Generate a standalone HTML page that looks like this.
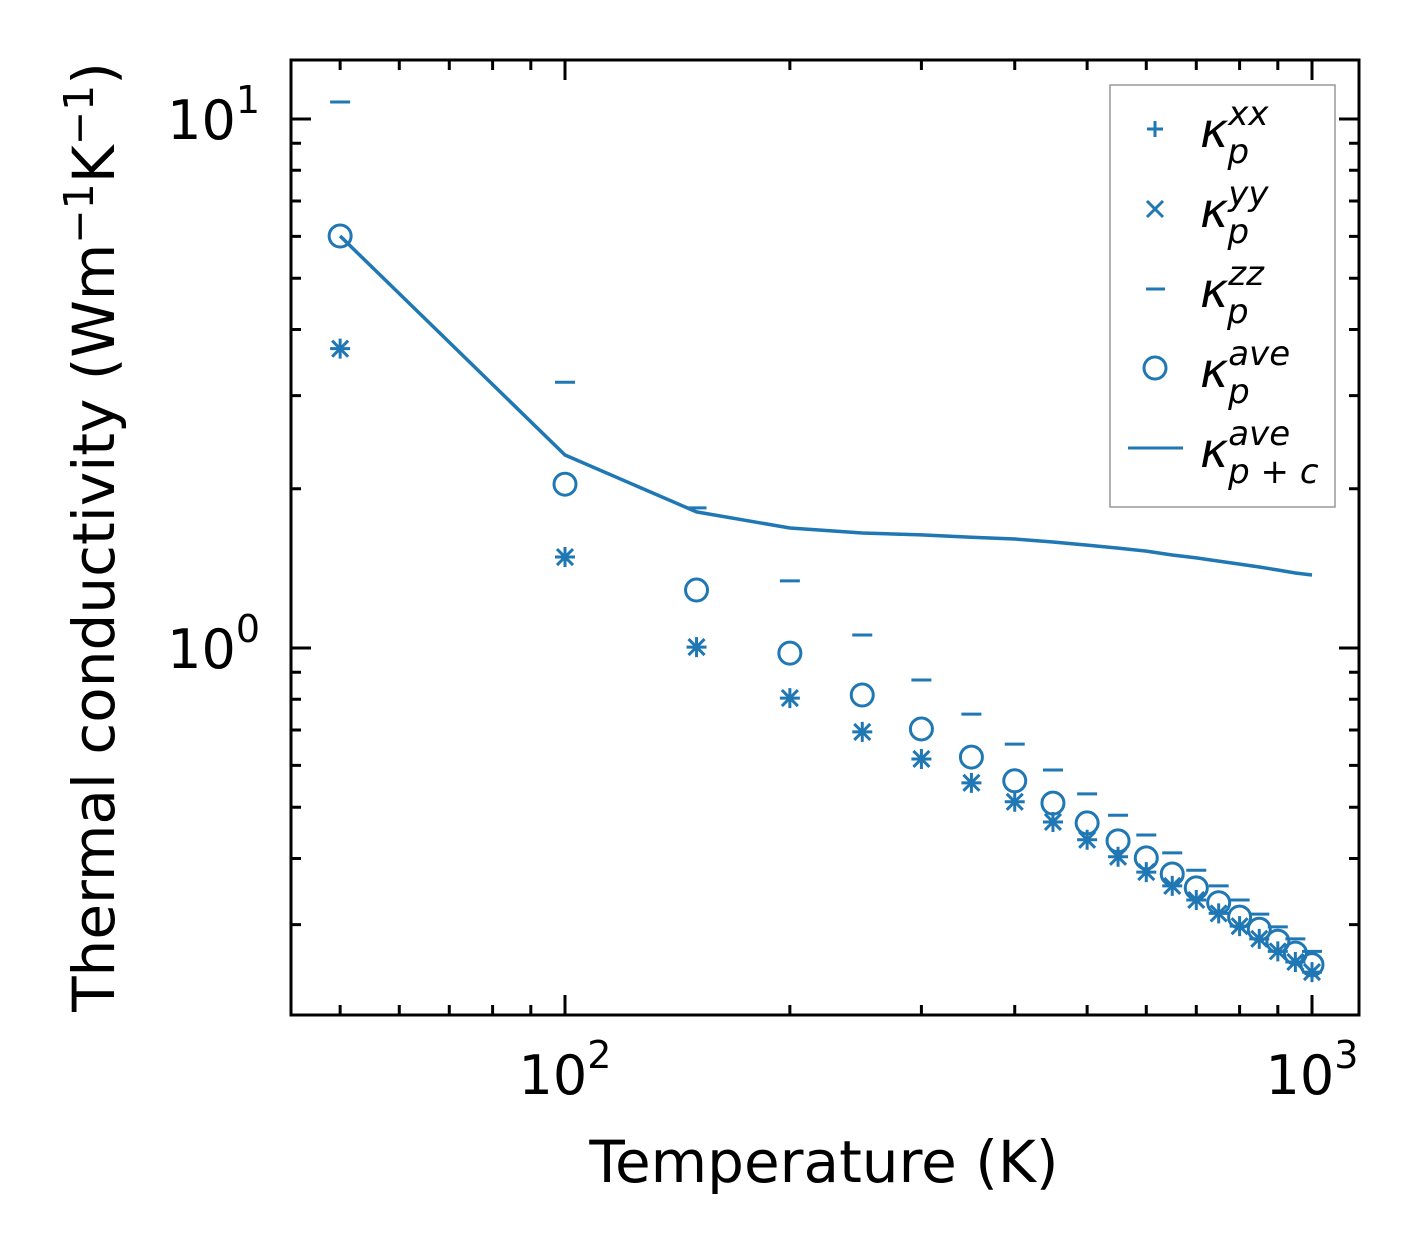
<!DOCTYPE html>
<html><head><meta charset="utf-8"><style>
body{margin:0;background:#fff}
svg{display:block;font-family:"DejaVu Sans","Liberation Sans",sans-serif}
</style></head><body>
<svg id="chart" width="1421" height="1254" viewBox="0 0 1421 1254" xmlns="http://www.w3.org/2000/svg">
<rect width="1421" height="1254" fill="#fff"/>
<g id="marks"></g>
<g id="axes"></g>
<rect x="291" y="60" width="1068" height="955" fill="none" stroke="#000" stroke-width="3"/>
<text x="824" y="1182" font-size="58" text-anchor="middle">Temperature (K)</text>
<text transform="translate(114,537) rotate(-90)" font-size="58" text-anchor="middle">Thermal conductivity (Wm<tspan font-size="41" dy="-21">−1</tspan><tspan dy="21">K</tspan><tspan font-size="41" dy="-21">−1</tspan><tspan dy="21">)</tspan></text>
<g>
<rect x="1110" y="85" width="225" height="422" fill="#fff" stroke="#999" stroke-width="1.5"/>
<g stroke="#1f77b4" stroke-width="3" fill="none">
<path d="M1155,121v16M1147,129h16"/>
<path d="M1147,201l16,16M1147,217l16,-16"/>
<path d="M1146,289h19"/>
<circle cx="1155" cy="368" r="11"/>
<path d="M1128,448h55"/>
</g>
<g font-size="48" font-style="italic" fill="#000">
<text x="1200" y="147">κ<tspan font-size="34" dy="-22">xx</tspan><tspan font-size="34" dx="-41" dy="38">p</tspan></text>
<text x="1200" y="227">κ<tspan font-size="34" dy="-22">yy</tspan><tspan font-size="34" dx="-41" dy="38">p</tspan></text>
<text x="1200" y="307">κ<tspan font-size="34" dy="-22">zz</tspan><tspan font-size="34" dx="-37" dy="38">p</tspan></text>
<text x="1200" y="387">κ<tspan font-size="34" dy="-22">ave</tspan><tspan font-size="34" dx="-62" dy="38">p</tspan></text>
<text x="1200" y="467">κ<tspan font-size="34" dy="-22">ave</tspan><tspan font-size="34" dx="-62" dy="38">p + c</tspan></text>
</g>
</g>
</svg>
<script>
const temps=[50,100,150,200,250,300,350,400,450,500,550,600,650,700,750,800,850,900,950,1000];
const kxx=[3.68,1.486,1.004,0.804,0.694,0.617,0.556,0.512,0.469,0.434,0.403,0.377,0.355,0.334,0.315,0.298,0.282,0.267,0.255,0.244];
const kyy=[3.68,1.486,1.004,0.804,0.694,0.617,0.556,0.512,0.469,0.434,0.403,0.377,0.355,0.334,0.315,0.298,0.282,0.267,0.255,0.244];
const kzz=[10.77,3.18,1.84,1.339,1.058,0.870,0.750,0.658,0.588,0.530,0.483,0.443,0.410,0.380,0.355,0.334,0.314,0.297,0.282,0.267];
const kave=[6.01,2.04,1.287,0.978,0.815,0.703,0.622,0.561,0.509,0.467,0.432,0.401,0.374,0.352,0.330,0.310,0.294,0.279,0.265,0.252];
const kpc=[6.01,2.317,1.808,1.686,1.650,1.636,1.62,1.607,1.586,1.565,1.545,1.525,1.499,1.48,1.46,1.441,1.423,1.404,1.386,1.374];
const xTickVals=[100,1000];
const xTickLabels=["2","3"];
const yTickVals=[1,10];
const yTickLabels=["0","1"];
const NS="http://www.w3.org/2000/svg";
const X=v=>565+747*Math.log10(v/100);
const Y=v=>648-529*Math.log10(v);
function mk(tag,attrs,parent){const e=document.createElementNS(NS,tag);for(const k in attrs)e.setAttribute(k,attrs[k]);parent.appendChild(e);return e;}
const marks=document.getElementById('marks'),axes=document.getElementById('axes');
const C="#1f77b4";
let d=temps.map((t,i)=>(i?'L':'M')+X(t).toFixed(1)+','+Y(kpc[i]).toFixed(1)).join('');
const ln=mk('path',{d:d,fill:'none',stroke:C,'stroke-width':3.5},marks);


temps.forEach((t,i)=>{
  const x=X(t);
  let y=Y(kxx[i]);
  const p=mk('path',{d:`M${x},${y-10}v20M${x-10},${y}h20`,stroke:C,'stroke-width':3},marks);
  
  
  y=Y(kyy[i]);
  const q=mk('path',{d:`M${x-8},${y-8}l16,16M${x-8},${y+8}l16,-16`,stroke:C,'stroke-width':3},marks);
  
  
  y=Y(kzz[i]);
  const z=mk('path',{d:`M${x-10},${y}h20`,stroke:C,'stroke-width':3},marks);
  
  
  y=Y(kave[i]);
  const c=mk('circle',{cx:x,cy:y,r:11,fill:'none',stroke:C,'stroke-width':3},marks);
  
  
});
const xminor=[50,60,70,80,90,200,300,400,500,600,700,800,900];
xminor.forEach(v=>{const x=X(v);
  const t=mk('path',{d:`M${x},1015v-10M${x},60v10`,stroke:'#000','stroke-width':3},axes);
  
  });
xTickVals.forEach((v,i)=>{const x=X(v);
  const t=mk('path',{d:`M${x},1015v-20M${x},60v20`,stroke:'#000','stroke-width':3},axes);
  
  
  const tx=mk('text',{x:x,y:1094,'font-size':54,'text-anchor':'middle'},axes);
  
  
  tx.innerHTML='10<tspan font-size="38" dy="-26">'+xTickLabels[i]+'</tspan>';});
const yminor=[0.3,0.4,0.5,0.6,0.7,0.8,0.9,2,3,4,5,6,7,8,9];
yminor.forEach(v=>{const y=Y(v);
  const t=mk('path',{d:`M291,${y}h10M1359,${y}h-10`,stroke:'#000','stroke-width':3},axes);
  
  });
yTickVals.forEach((v,i)=>{const y=Y(v);
  const t=mk('path',{d:`M291,${y}h20M1359,${y}h-20`,stroke:'#000','stroke-width':3},axes);
  
  
  const tx=mk('text',{x:260,y:y+20,'font-size':54,'text-anchor':'end'},axes);
  
  
  tx.innerHTML='10<tspan font-size="38" dy="-26">'+yTickLabels[i]+'</tspan>';});
</script>
</body></html>
